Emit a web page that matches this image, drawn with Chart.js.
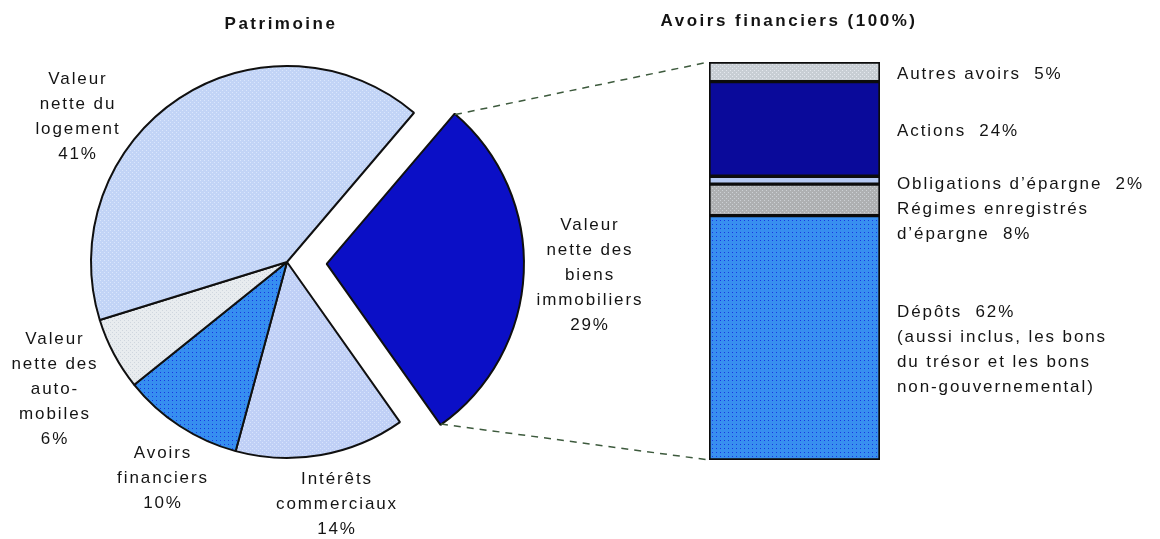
<!DOCTYPE html>
<html>
<head>
<meta charset="utf-8">
<script src="https://cdn.jsdelivr.net/npm/chart.js@4"></script>
<style>
  body { margin: 0; background: #fff; }
  #wrap { position: relative; width: 1160px; height: 539px; overflow: hidden; }
  #wrap canvas { position: absolute; left: 0; top: 0; }
  .lbl {
    position: absolute;
    font-family: "Liberation Sans", Arial, sans-serif;
    font-size: 17px;
    line-height: 25px;
    letter-spacing: 1.9px;
    color: #141414;
    white-space: pre;
  }
  .center { transform: translateX(-50%); text-align: center; }
  .title { font-weight: bold; letter-spacing: 2.5px; }
</style>
</head>
<body>
<div id="wrap">
  <canvas id="patrimoine" width="1160" height="539"></canvas>
  <canvas id="avoirs" width="1160" height="539"></canvas>
</div>
<script>
// patrimoine (pie), clockwise starting at the exploded slice
const assetLabels = [
  ['Valeur', 'nette des', 'biens', 'immobiliers'],
  ['Intérêts', 'commerciaux'],
  ['Avoirs', 'financiers'],
  ['Valeur', 'nette des', 'auto-', 'mobiles'],
  ['Valeur', 'nette du', 'logement']
];
const assetShares = [29, 14, 10, 6, 41];

// avoirs financiers (stacked bar), bottom to top
const finLabels = [
  ['Dépôts'],
  ['Régimes enregistrés', 'd’épargne'],
  ['Obligations d’épargne'],
  ['Actions'],
  ['Autres avoirs']
];
const finNotes = [
  ['(aussi inclus, les bons', 'du trésor et les bons', 'non-gouvernemental)'],
  [], [], [], []
];
const finShares = [62, 8, 2, 24, 5];

const titles = ['Patrimoine', 'Avoirs financiers (100%)'];

// dotted fills, like the old halftone print
function stipple(base, dot, two) {
  const c = document.createElement('canvas');
  c.width = 4; c.height = 4;
  const g = c.getContext('2d');
  g.fillStyle = base;
  g.fillRect(0, 0, 4, 4);
  g.fillStyle = dot;
  g.fillRect(0, 0, 1, 1);
  if (two) g.fillRect(2, 2, 1, 1);
  return g.createPattern(c, 'repeat');
}

const pieColors = [
  '#0b0fc6',
  stipple('#c0d0f6', '#d8e4fc', true),
  stipple('#368ef0', '#1838e0'),
  stipple('#e8ecef', '#cfd6de', true),
  stipple('#c2d4f6', '#dae6fc', true)
];
const barColors = [
  stipple('#388ff0', '#1838e0'),
  stipple('#aeb0b2', '#cdd1d5', true),
  '#b4c8f2',
  '#0a0a9a',
  stipple('#c8ced4', '#e4e8ee', true)
];

const pieChart = new Chart(document.getElementById('patrimoine'), {
  type: 'pie',
  data: {
    labels: assetLabels,
    datasets: [{
      data: assetShares,
      backgroundColor: pieColors,
      borderColor: '#101010',
      borderWidth: 2,
      offset: [159, 0, 0, 0, 0]
    }]
  },
  options: {
    responsive: false,
    animation: false,
    rotation: 40.4,
    radius: 196,
    layout: { padding: { left: 0, right: 586, top: 0, bottom: 15 } },
    plugins: { legend: { display: false }, tooltip: { enabled: false } }
  }
});

// dashed lines from the pulled-out slice to the bar
const connector = {
  id: 'connector',
  afterDraw(chart) {
    const arc = pieChart.getDatasetMeta(0).data[0];
    const mid = (arc.startAngle + arc.endAngle) / 2;
    const circ = arc.endAngle - arc.startAngle;
    const off = (arc.options.offset || 0) / 4;
    const shift = off * (2 - Math.sin(Math.min(Math.PI, circ)));
    const cx = arc.x + Math.cos(mid) * shift;
    const cy = arc.y + Math.sin(mid) * shift;
    const r = arc.outerRadius;

    const metas = chart.data.datasets.map((d, i) => chart.getDatasetMeta(i).data[0]);
    const topBar = metas[metas.length - 1];
    const bottomBar = metas[0];
    const left = topBar.x - topBar.width / 2;

    const ctx = chart.ctx;
    ctx.save();
    ctx.strokeStyle = '#3d5a3d';
    ctx.lineWidth = 1.5;
    ctx.setLineDash([7, 6]);
    ctx.beginPath();
    ctx.moveTo(cx + Math.cos(arc.startAngle) * r, cy + Math.sin(arc.startAngle) * r);
    ctx.lineTo(left, topBar.y);
    ctx.moveTo(cx + Math.cos(arc.endAngle) * r, cy + Math.sin(arc.endAngle) * r);
    ctx.lineTo(left, bottomBar.base);
    ctx.stroke();
    ctx.restore();
  }
};

const finTotal = finShares.reduce((a, b) => a + b, 0);

const barChart = new Chart(document.getElementById('avoirs'), {
  type: 'bar',
  data: {
    labels: [titles[1]],
    datasets: finShares.map((v, i) => ({
      label: finLabels[i].join(' '),
      data: [v],
      backgroundColor: barColors[i],
      borderColor: '#0c0c0c',
      borderWidth: 2,
      borderSkipped: false,
      barPercentage: 1,
      categoryPercentage: 1
    }))
  },
  options: {
    responsive: false,
    animation: false,
    layout: { padding: { left: 709, right: 280, top: 62, bottom: 79 } },
    scales: {
      x: { stacked: true, display: false },
      y: { stacked: true, display: false, min: 0, max: finTotal }
    },
    plugins: { legend: { display: false }, tooltip: { enabled: false } }
  },
  plugins: [connector]
});

// text labels
const wrap = document.getElementById('wrap');
function addText(lines, x, y, cls) {
  const el = document.createElement('div');
  el.className = 'lbl ' + cls;
  el.textContent = lines.join('\n');
  el.style.left = x + 'px';
  el.style.top = (y - 12.5) + 'px';
  wrap.appendChild(el);
}

addText([titles[0]], 281, 23, 'center title');
addText([titles[1]], 789, 20, 'center title');

// pie labels: name lines then the share
const pieLabelAt = [[590, 224], [337, 478], [163, 452], [55, 338], [78, 78]];
assetLabels.forEach((lines, i) => {
  addText(lines.concat([assetShares[i] + '%']), pieLabelAt[i][0], pieLabelAt[i][1], 'center');
});

// bar labels: share goes on the last name line, notes follow
const barLabelAt = [311, 208, 183, 130, 73];
finLabels.forEach((lines, i) => {
  const txt = lines.slice();
  txt[txt.length - 1] += '  ' + finShares[i] + '%';
  addText(txt.concat(finNotes[i]), 897, barLabelAt[i], '');
});
</script>
</body>
</html>
